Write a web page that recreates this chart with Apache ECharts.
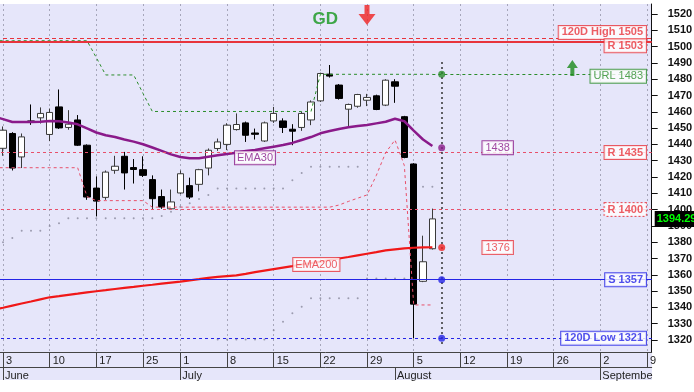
<!DOCTYPE html>
<html><head><meta charset="utf-8">
<script src="https://cdn.jsdelivr.net/npm/echarts@6/dist/echarts.min.js"></script>
<style>html,body{margin:0;padding:0;background:#fff;}#c{width:694px;height:392px;}</style>
</head><body><div id="c"></div>
<script>
// ---------- DATA ----------
const dates = ['2019-05-31',
 '2019-06-03','2019-06-04','2019-06-05','2019-06-06','2019-06-07',
 '2019-06-10','2019-06-11','2019-06-12','2019-06-13','2019-06-14',
 '2019-06-17','2019-06-18','2019-06-19','2019-06-20','2019-06-21',
 '2019-06-25','2019-06-26','2019-06-27','2019-06-28',
 '2019-07-01','2019-07-02','2019-07-03','2019-07-04','2019-07-05',
 '2019-07-08','2019-07-09','2019-07-10','2019-07-11','2019-07-12',
 '2019-07-15','2019-07-16','2019-07-17','2019-07-18','2019-07-19',
 '2019-07-22','2019-07-23','2019-07-24','2019-07-25','2019-07-26',
 '2019-07-29','2019-07-30','2019-07-31','2019-08-01','2019-08-02',
 '2019-08-05','2019-08-06','2019-08-07','2019-08-08','2019-08-09',
 '2019-08-12','2019-08-13','2019-08-14','2019-08-15','2019-08-16',
 '2019-08-19','2019-08-20','2019-08-21','2019-08-22','2019-08-23',
 '2019-08-26','2019-08-27','2019-08-28','2019-08-29','2019-08-30',
 '2019-09-02','2019-09-03','2019-09-04','2019-09-05','2019-09-06',
 '2019-09-09'];
const weekTicks = ['2019-06-03','2019-06-10','2019-06-17','2019-06-25','2019-07-01','2019-07-08','2019-07-15','2019-07-22','2019-07-29','2019-08-05','2019-08-12','2019-08-19','2019-08-26','2019-09-02','2019-09-09'];
const monthTicks = ['2019-06-03','2019-07-01','2019-08-01','2019-09-02'];
const monthNames = ['June','July','August','September'];
const yTicks = [1320,1330,1340,1350,1360,1370,1380,1390,1400,1410,1420,1430,1440,1450,1460,1470,1480,1490,1500,1510,1520];

// candles from 2019-06-03 to 2019-08-07
const open  = [1437.6,1446.7,1432.3,1454.4,1456.3,1446.1,1463,1450.4,1455,1439.5,1413.2,1407.5,1424.1,1432.7,1425.8,1424.5,1418.4,1408,1400.5,1410.2,1414.7,1415.5,1425.5,1437.5,1440,1449.1,1453.2,1447,1442.1,1454.4,1454.4,1449.3,1450.4,1455,1466.7,1483.1,1476.4,1461.6,1463.4,1467.1,1469.8,1464.1,1478.4,1457,1428,1356,1376];
const close = [1448.7,1425.5,1444.6,1453.6,1459,1459.6,1450.1,1452.4,1439.5,1407.7,1405.2,1423,1426.6,1422.5,1424.6,1421,1406.7,1401.6,1404.7,1422,1407.7,1424.5,1436.4,1441.5,1451.8,1452.2,1445.6,1446.2,1453.2,1459,1450.4,1448.1,1459,1466,1483.5,1481.9,1468.2,1464.5,1470.6,1468.8,1461.4,1479.4,1475.7,1432,1342,1368,1394.29];
const low   = [1433,1424,1425.5,1452,1452.8,1442,1449.5,1449,1439,1406,1395.8,1406,1422,1412.3,1416,1420,1400.5,1400.5,1400,1409.5,1406.5,1411.2,1421,1436,1436.5,1448.5,1441.5,1443,1441.5,1453.2,1447,1439.5,1448.3,1451.8,1466,1481,1467.5,1451.3,1462.5,1463.5,1461,1463.5,1465.5,1431.5,1321,1355.5,1375.5];
const high  = [1451,1447.5,1446.7,1464.5,1462.7,1462,1473.7,1461,1458,1440,1420.4,1424,1433,1435.4,1431,1432.7,1421,1412.3,1412.3,1424,1419.6,1425,1437.5,1443.6,1453,1459,1454,1449.7,1454,1463,1456,1452.4,1460,1467,1484,1488.7,1477,1465,1471,1471,1470.5,1480,1480,1457.5,1428.5,1384,1400.6];

// overlays from 2019-05-31 to 2019-08-07
const ema30 = [1457.2,1455.5,1453.7,1453.7,1453.7,1453.9,1454.3,1454.2,1453.4,1452.3,1449.8,1447.3,1445.6,1444.5,1443.0,1441.7,1440.1,1438.1,1436.0,1433.9,1432.3,1431.5,1431.5,1432.4,1433.3,1434.1,1434.9,1435.9,1436.6,1437.6,1438.6,1439.6,1440.9,1442.7,1444.5,1446.8,1448.2,1449.4,1450.5,1451.3,1451.9,1452.9,1453.9,1455.7,1454.2,1448.5,1443.0,1439.0];
const ema200 = [1338.6,1339.8,1341.1,1342.4,1343.6,1344.9,1346.2,1346.9,1347.7,1348.4,1349.2,1349.9,1350.6,1351.3,1352.0,1352.6,1353.3,1353.9,1354.6,1355.2,1355.8,1356.6,1357.3,1358.1,1358.7,1359.2,1359.7,1360.6,1361.6,1362.6,1363.5,1364.4,1365.3,1366.3,1367.2,1368.1,1369.1,1370.0,1370.9,1371.9,1372.9,1373.9,1375.0,1375.6,1376.2,1376.6,1376.8,1376.9];
const upperStop = [1503.6,1503.6,1503.6,1503.6,1503.6,1503.6,1503.6,1503.6,1503.6,1503.6,1503.6,1493.2,1482.6,1482.6,1482.6,1482.6,1471.3,1460.2,1460.2,1460.2,1460.2,1460.2,1460.2,1460.2,1460.2,1460.2,1460.2,1460.2,1460.2,1460.2,1460.2,1460.2,1460.2,1460.2,1460.2,1483,1483,1483,1483,1483,1483,1483,1483,1483,1483,1483,1483,1483];
const lowerStop = [1425.7,1425.7,1425.7,1425.7,1425.7,1425.7,1425.7,1425.7,1425.7,1425.7,1408,1405.5,1405.5,1405.5,1405.5,1405.5,1405.5,1401.5,1401.5,1401.5,1401.5,1401.5,1401.5,1401.5,1401.5,1401.5,1401.5,1401.5,1401.5,1401.5,1401.5,1401.5,1401.5,1401.5,1401.5,1401.5,1401.5,1402.8,1405,1407,1409,1421,1435,1442.7,1427,1341.5,1341.5,1341.5];
const bandUpper = [null,1380,1382.6,1387,1387,1387,1390,1391.7,1394.7,1394.7,1394.7,1394.7,1394.7,1394.7,1394.7,1394.7,1394.7,1394.7,1396.1,1398.7,1401.8,1403.9,1406.5,1409,1413,1413,1413,1413,1413,1413,1413,1413,1418,1422.5,1426.3,1426.3,1426.3,1426.3,1426.3,1426.3,null,null,null,null,null,null,1414,1414];
const bandLower = [null,null,null,null,null,null,null,null,null,null,null,null,null,null,null,null,null,null,null,null,null,null,null,null,1320.3,1320.3,1320.3,1320.3,1320.3,1320.3,1326,1331.2,1336.4,1340.4,1345.6,1345.6,1345.6,1345.6,1345.6,1345.6,1357.8,1357.8,1357.8,1357.8,1357.8,null,null,null];

// levels
const high120 = 1505, res1503 = 1503, urlLevel = 1483, res1435 = 1435, res1400 = 1400, sup1357 = 1357, low120 = 1321;
const ema30Next = 1438, ema200Next = 1376.7;
const projDate = '2019-08-08';
const labelDate = '2019-08-16';

// ---------- CHART ----------
const ff = "'Liberation Sans', Arial, sans-serif";
const RED = '#e8343c', PINK = '#e8506a', BLUE = '#2424e6', GREEN = '#2a8c2a', PURPLE = '#8a1a8a';
const isWeek = (i, v) => weekTicks.indexOf(v) >= 0;
const isMonth = (i, v) => monthTicks.indexOf(v) >= 0;
const pairs = arr => arr.map((v, k) => v == null ? null : [dates[k], v]).filter(Boolean);
const candleData = open.map((o, k) => [dates[k + 1], o, close[k], low[k], high[k]]);
const lastClose = close[close.length - 1];
const yMin = 1312.64, yMax = 1526.13;

function box(color, bold, extra) {
  return Object.assign({
    show: true, color: color, fontFamily: ff, fontSize: 11,
    fontWeight: bold ? 'bold' : 'normal',
    backgroundColor: '#ffffff', borderColor: color, borderWidth: 1,
    padding: [1, 3, 0, 3], lineHeight: 12
  }, extra || {});
}
function hLine(v, color, width, type) {
  return { yAxis: v, lineStyle: { color: color, width: width, type: type }, label: { show: false } };
}

const lastDate = dates[dates.length - 1];
const levelLabels = [
  { value: [lastDate, high120], label: box(RED, true, { formatter: '120D High ' + high120, offset: [0, -6] }) },
  { value: [lastDate, res1503], label: box(RED, true, { formatter: 'R ' + res1503, offset: [0, 4] }) },
  { value: [lastDate, urlLevel], label: box(GREEN, false, { formatter: 'URL ' + urlLevel, offset: [0, 2] }) },
  { value: [lastDate, res1435], label: box(RED, true, { formatter: 'R ' + res1435 }) },
  { value: [lastDate, res1400], label: box(RED, true, { formatter: 'R ' + res1400, borderType: [2, 2] }) },
  { value: [lastDate, sup1357], label: box(BLUE, true, { formatter: 'S ' + sup1357 }) },
  { value: [lastDate, low120], label: box(BLUE, true, { formatter: '120D Low ' + low120 }) }
];
const projVals = [urlLevel, ema30Next, ema200Next, sup1357, low120];
const projColors = [GREEN, PURPLE, '#f02020', BLUE, BLUE];

const option = {
  animation: false,
  backgroundColor: '#ffffff',
  graphic: [{ type: 'rect', silent: true, z: -1, shape: { x: 0, y: 352, width: 652, height: 28 }, style: { fill: '#e6e6fa' } }],
  grid: { left: -11, right: 42.3, top: 4, bottom: 40, show: true, backgroundColor: '#e6e6fa', borderWidth: 0, containLabel: false, outerBoundsMode: 'none' },
  xAxis: [{
    type: 'category', data: dates, boundaryGap: true, position: 'bottom',
    axisLine: { show: true, lineStyle: { color: '#444', width: 1 } },
    axisTick: { show: true, alignWithLabel: true, interval: isWeek, length: 15, lineStyle: { color: '#444' } },
    axisLabel: { interval: isWeek, formatter: v => String(+v.slice(8)), align: 'left', padding: [0, 0, 0, 3], margin: 3, fontSize: 11, color: '#222', fontFamily: ff },
    splitLine: { show: true, interval: isWeek, alignWithLabel: true, lineStyle: { color: '#a6a6ba', width: 1, type: [2, 3] } }
  }, {
    type: 'category', data: dates, boundaryGap: true, position: 'bottom', offset: 15,
    axisLine: { show: true, lineStyle: { color: '#444', width: 1 } },
    axisTick: { show: true, alignWithLabel: true, interval: isMonth, length: 13, lineStyle: { color: '#444' } },
    axisLabel: { interval: isMonth, formatter: v => monthNames[monthTicks.indexOf(v)], align: 'left', padding: [0, 0, 0, 2], margin: 3, fontSize: 11, color: '#222', fontFamily: ff, width: 52, overflow: 'truncate', ellipsis: '' },
    splitLine: { show: false }
  }],
  yAxis: [{
    type: 'value', position: 'right', min: yMin, max: yMax,
    axisLine: { show: true, lineStyle: { color: '#111', width: 1 } },
    axisTick: { show: true, length: 6, customValues: yTicks, lineStyle: { color: '#111' } },
    axisLabel: { customValues: yTicks, formatter: v => String(v), margin: 16, fontSize: 11, fontWeight: 'bold', color: '#111', fontFamily: ff },
    splitLine: { show: false }
  }, {
    type: 'value', position: 'right', min: yMin, max: yMax, z: 5,
    axisLine: { show: false }, axisTick: { show: false }, splitLine: { show: false },
    axisLabel: { customValues: [lastClose], formatter: v => v.toFixed(2), margin: 3, fontSize: 11, fontWeight: 'bold', color: '#00ff00', backgroundColor: '#000', padding: [3, 3, 2, 2], fontFamily: ff }
  }],
  series: [
    {
      type: 'candlestick', name: 'Price', z: 2, barWidth: 7,
      dimensions: ['date', 'open', 'close', 'lowest', 'highest'],
      encode: { x: 'date', y: ['open', 'close', 'lowest', 'highest'] },
      data: candleData,
      itemStyle: { color: '#ffffff', color0: '#000000', borderColor: '#3a3a3a', borderColor0: '#000000', borderWidth: 1 }
    },
    {
      type: 'line', name: 'levels', data: [], silent: true,
      markLine: {
        symbol: 'none', silent: true, animation: false,
        data: [
          hLine(high120, RED, 1, [4, 3]),
          hLine(res1503, RED, 2, 'solid'),
          hLine(res1435, PINK, 1, [3, 3]),
          hLine(res1400, PINK, 1, [3, 3]),
          hLine(sup1357, BLUE, 1, 'solid'),
          hLine(low120, BLUE, 1, [3, 3]),
          [{ coord: [dates[ema30.length - 1], urlLevel], lineStyle: { color: GREEN, width: 1, type: [3, 3] }, label: { show: false } },
           { coord: [lastDate, urlLevel] }]
        ]
      }
    },
    { type: 'line', name: 'lowerStop', data: pairs(lowerStop), symbol: 'none', z: 3, silent: true, lineStyle: { color: PINK, width: 1, type: [3, 3] } },
    { type: 'line', name: 'upperStop', data: pairs(upperStop), symbol: 'none', z: 3, silent: true, lineStyle: { color: GREEN, width: 1, type: [3, 3] } },
    { type: 'scatter', name: 'bandUpper', data: pairs(bandUpper), symbolSize: 2, z: 3, silent: true, itemStyle: { color: '#8a8a9c' } },
    { type: 'scatter', name: 'bandLower', data: pairs(bandLower), symbolSize: 2, z: 3, silent: true, itemStyle: { color: '#8a8a9c' } },
    { type: 'line', name: 'EMA200', data: pairs(ema200), symbol: 'none', z: 4, silent: true, lineStyle: { color: '#f01818', width: 2.2 } },
    { type: 'line', name: 'EMA30', data: pairs(ema30), symbol: 'none', z: 4, silent: true, lineStyle: { color: PURPLE, width: 2.5 } },
    {
      type: 'scatter', name: 'projection', z: 6, silent: true, symbolSize: 7,
      data: projVals.map((v, k) => ({ value: [projDate, v], itemStyle: { color: projColors[k] } })),
      markLine: {
        symbol: 'none', silent: true, animation: false,
        data: [[{ coord: [projDate, Math.max.apply(null, projVals) + 7.5], lineStyle: { color: '#333', width: 1.5, type: [2, 3] }, label: { show: false } },
                { coord: [projDate, Math.min.apply(null, projVals) - 5] }]]
      }
    },
    {
      type: 'scatter', name: 'labels', z: 7, silent: true, symbolSize: 0,
      label: { show: true, position: 'left', distance: 1 },
      data: levelLabels.concat([
        { value: [labelDate, ema30Next], label: box(PURPLE, false, { position: 'inside', formatter: String(ema30Next) }) },
        { value: [labelDate, ema200Next], label: box(RED, false, { position: 'inside', formatter: String(Math.floor(ema200Next)) }) },
        { value: ['2019-07-11', 1431.8], label: box(PURPLE, false, { position: 'inside', formatter: 'EMA30', padding: [1, 2, 0, 2] }) },
        { value: ['2019-07-22', 1366.3], label: box(RED, false, { position: 'inside', formatter: 'EMA200', offset: [-4, 0], padding: [1, 2, 0, 2] }) },
        { value: ['2019-07-22', 1516.9], label: { show: true, position: 'inside', offset: [5, 0], formatter: 'GD', color: '#13961a', fontSize: 17, fontWeight: 'bold', fontFamily: ff } }
      ])
    },
    {
      type: 'scatter', name: 'arrows', z: 7, silent: true,
      data: [
        { value: ['2019-07-29', 1519.4], symbol: 'path://M6,0H11V9H17L8.5,20L0,9H6Z', symbolSize: [17, 20], itemStyle: { color: '#f02020' } },
        { value: ['2019-08-28', 1486.9], symbol: 'path://M5.5,0L11,8H7.5V16H3.5V8H0Z', symbolSize: [11, 16], itemStyle: { color: '#1a8a1a' } }
      ]
    }
  ]
};
const chart = echarts.init(document.getElementById('c'), null, { renderer: 'canvas', width: 694, height: 392 });
chart.setOption(option);
</script>
</body></html>
